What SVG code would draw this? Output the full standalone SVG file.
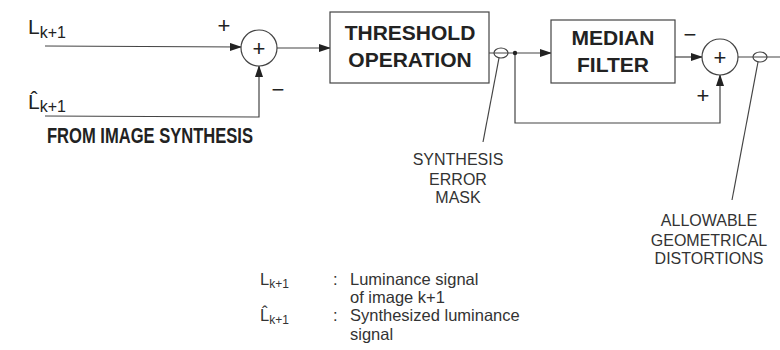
<svg xmlns="http://www.w3.org/2000/svg" width="780" height="350" viewBox="0 0 780 350">
<defs>
<marker id="ah" markerWidth="12" markerHeight="8" refX="11" refY="4" orient="auto" markerUnits="userSpaceOnUse">
<path d="M0,0 L12,4 L0,8 Z" fill="#222"/>
</marker>
<style>
.ln{fill:none;stroke:#444;stroke-width:1.2}
.bx{fill:#fff;stroke:#444;stroke-width:1.2}
.bt{font-family:"Liberation Sans",Arial,sans-serif;font-weight:bold;font-size:21px;fill:#222;text-anchor:middle}
.lt{font-family:"Liberation Sans",Arial,sans-serif;font-size:16px;fill:#333;text-anchor:middle}
.sg{font-family:"Liberation Sans",Arial,sans-serif;font-size:22px;fill:#222;text-anchor:middle}
.sym{font-family:"Liberation Sans",Arial,sans-serif;font-size:21px;fill:#222}
.sub{font-size:16px}
.lg{font-family:"Liberation Sans",Arial,sans-serif;font-size:16.5px;fill:#333}
.lsub{font-size:12px}
</style>
</defs>
<rect width="780" height="350" fill="#fff"/>
<g id="connectors">
<path class="ln" d="M45,46 L241,47" marker-end="url(#ah)"/>
<path class="ln" d="M45,116 L259,117 L259,66" marker-end="url(#ah)"/>
<path class="ln" d="M277,48 L330,48" marker-end="url(#ah)"/>
<path class="ln" d="M489,53 L551,53" marker-end="url(#ah)"/>
<path class="ln" d="M515,53 L515,123 L720,123 L720,75" marker-end="url(#ah)"/>
<path class="ln" d="M675,57 L702,57" marker-end="url(#ah)"/>
<path class="ln" d="M738,57 L780,57"/>
<circle cx="515" cy="53" r="2.2" fill="#222"/>
<ellipse class="ln" cx="501" cy="53" rx="7" ry="5"/>
<ellipse class="ln" cx="760" cy="57" rx="7" ry="5"/>
<path class="ln" d="M499,58 L483,142"/>
<path class="ln" d="M758,62 L732,200"/>
</g>
<g id="in_L">
<text class="sym" x="28" y="34">L<tspan class="sub" dy="4">k+1</tspan></text>
</g>
<g id="in_Lhat">
<text class="sym" x="28" y="109">L̂<tspan class="sub" dy="3">k+1</tspan></text>
<text class="sg" x="150" y="143" font-weight="bold" font-size="15.5px" textLength="206" lengthAdjust="spacingAndGlyphs">FROM IMAGE SYNTHESIS</text>
</g>
<g id="sum1">
<circle class="bx" cx="259" cy="48" r="18"/>
<text class="sg" x="259" y="56">+</text>
<text class="sg" x="224" y="33">+</text>
<text class="sg" x="278" y="97">−</text>
</g>
<g id="threshold">
<rect class="bx" x="330" y="12" width="159" height="71"/>
<text class="bt" x="410" y="40">THRESHOLD</text>
<text class="bt" x="410" y="67">OPERATION</text>
</g>
<g id="median">
<rect class="bx" x="551" y="20" width="124" height="63"/>
<text class="bt" x="613" y="45">MEDIAN</text>
<text class="bt" x="613" y="72">FILTER</text>
</g>
<g id="sum2">
<circle class="bx" cx="720" cy="57" r="18"/>
<text class="sg" x="720" y="65">+</text>
<text class="sg" x="690" y="42">−</text>
<text class="sg" x="703" y="103">+</text>
</g>
<g id="mask_label">
<text class="lt" x="458" y="165">SYNTHESIS</text>
<text class="lt" x="458" y="185">ERROR</text>
<text class="lt" x="458" y="203">MASK</text>
</g>
<g id="distort_label">
<text class="lt" x="709" y="226">ALLOWABLE</text>
<text class="lt" x="709" y="246">GEOMETRICAL</text>
<text class="lt" x="709" y="264">DISTORTIONS</text>
</g>
<g id="legend">
<text class="lg" x="260" y="285">L<tspan class="lsub" dy="3">k+1</tspan></text>
<text class="lg" x="333" y="285">:</text>
<text class="lg" x="350" y="285">Luminance signal</text>
<text class="lg" x="350" y="303">of image k+1</text>
<text class="lg" x="260" y="321">L̂<tspan class="lsub" dy="3">k+1</tspan></text>
<text class="lg" x="333" y="321">:</text>
<text class="lg" x="350" y="321">Synthesized luminance</text>
<text class="lg" x="350" y="340">signal</text>
</g>
</svg>
